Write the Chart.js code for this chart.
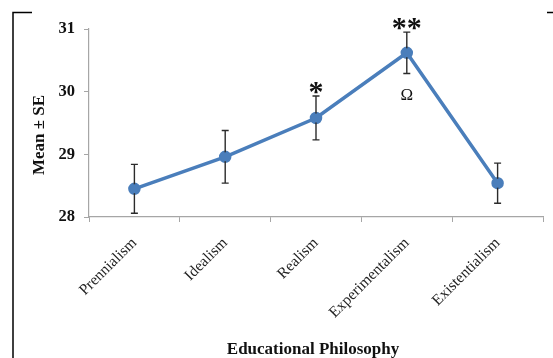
<!DOCTYPE html>
<html>
<head>
<meta charset="utf-8">
<script src="https://cdn.jsdelivr.net/npm/chart.js@4.4.1/dist/chart.umd.min.js"></script>
<style>
  html, body { margin: 0; padding: 0; background: #fff; }
  #wrap { position: relative; width: 553px; height: 358px; }
</style>
</head>
<body>
<div id="wrap"><canvas id="c" width="553" height="358"></canvas></div>
<script>
// Educational philosophy scores (mean and standard error)
const categories = ['Prennialism', 'Idealism', 'Realism', 'Experimentalism', 'Existentialism'];
const means = [28.45, 28.96, 29.58, 30.62, 28.54];
const stdErrors = [0.39, 0.42, 0.35, 0.33, 0.32];
const yTicks = [28, 29, 30, 31];
// Significance marks: text shown above (or below) each category's error bar
const marksAbove = ['', '', '*', '**', ''];
const marksBelow = ['', '', '', 'Ω', ''];

const SERIF = '"Liberation Serif", "Times New Roman", serif';
const LINE_BLUE = '#4A7EBB';

const decorPlugin = {
  id: 'decor',
  afterDatasetsDraw(chart) {
    const { ctx, chartArea } = chart;
    const xs = chart.scales.x, ys = chart.scales.y;
    ctx.save();
    // error bars
    ctx.strokeStyle = '#2b2b2b';
    ctx.lineWidth = 1.4;
    means.forEach((m, i) => {
      const x = xs.getPixelForValue(i);
      const yTop = ys.getPixelForValue(m + stdErrors[i]);
      const yBot = ys.getPixelForValue(m - stdErrors[i]);
      ctx.beginPath();
      ctx.moveTo(x, yTop); ctx.lineTo(x, yBot);
      ctx.moveTo(x - 3.5, yTop); ctx.lineTo(x + 3.5, yTop);
      ctx.moveTo(x - 3.5, yBot); ctx.lineTo(x + 3.5, yBot);
      ctx.stroke();
    });
    // redraw points on top of the error bars
    const meta = chart.getDatasetMeta(0);
    ctx.fillStyle = LINE_BLUE;
    meta.data.forEach(p => {
      ctx.beginPath();
      ctx.arc(p.x, p.y, 4.5, 0, Math.PI * 2);
      ctx.fill();
    });
    // significance marks
    ctx.fillStyle = '#111';
    ctx.textAlign = 'center';
    means.forEach((m, i) => {
      const x = xs.getPixelForValue(i);
      if (marksAbove[i]) {
        ctx.font = 'bold 30px ' + SERIF;
        ctx.textBaseline = 'alphabetic';
        ctx.fillText(marksAbove[i], x, ys.getPixelForValue(m + stdErrors[i]) + 5);
      }
      if (marksBelow[i]) {
        ctx.font = '17px ' + SERIF;
        ctx.textBaseline = 'top';
        ctx.fillText(marksBelow[i], x, ys.getPixelForValue(m - stdErrors[i]) + 14);
      }
    });
    // axis titles
    ctx.font = 'bold 17px ' + SERIF;
    ctx.textBaseline = 'middle';
    ctx.fillText('Educational Philosophy', 313, 350);
    ctx.translate(40, 135);
    ctx.rotate(-Math.PI / 2);
    ctx.fillText('Mean ± SE', 0, 0);
    ctx.restore();
    // outer frame fragments
    ctx.save();
    ctx.strokeStyle = '#000';
    ctx.lineWidth = 1.5;
    ctx.beginPath();
    ctx.moveTo(13, 358); ctx.lineTo(13, 12.5); ctx.lineTo(32, 12.5);
    ctx.moveTo(547, 12.5); ctx.lineTo(553, 12.5);
    ctx.stroke();
    ctx.restore();
  }
};

new Chart(document.getElementById('c'), {
  type: 'line',
  data: {
    labels: categories,
    datasets: [{
      data: means,
      borderColor: LINE_BLUE,
      backgroundColor: LINE_BLUE,
      borderWidth: 3.5,
      pointRadius: 4.5,
      pointBackgroundColor: LINE_BLUE,
      tension: 0
    }]
  },
  options: {
    responsive: false,
    animation: false,
    layout: { padding: { top: 29, right: 10, left: 0, bottom: 0 } },
    plugins: { legend: { display: false }, tooltip: { enabled: false } },
    scales: {
      x: {
        offset: true,
        afterFit(s) { s.height = 141; },
        grid: { offset: true, drawOnChartArea: false, drawTicks: true, tickLength: 5, color: '#a6a6a6' },
        border: { color: '#a6a6a6', width: 1.2 },
        ticks: {
          maxRotation: 45, minRotation: 45, padding: 12,
          color: '#222',
          font: { family: SERIF, size: 15.5 }
        }
      },
      y: {
        min: 28, max: 31,
        afterFit(s) { s.width = 89; },
        afterBuildTicks(s) { s.ticks = yTicks.map(v => ({ value: v })); },
        grid: { drawOnChartArea: false, drawTicks: true, tickLength: 5, color: '#a6a6a6' },
        border: { color: '#a6a6a6', width: 1.2 },
        ticks: {
          padding: 9,
          color: '#111',
          font: { family: SERIF, size: 16.5, weight: 'bold' }
        }
      }
    }
  },
  plugins: [decorPlugin]
});
</script>
</body>
</html>
